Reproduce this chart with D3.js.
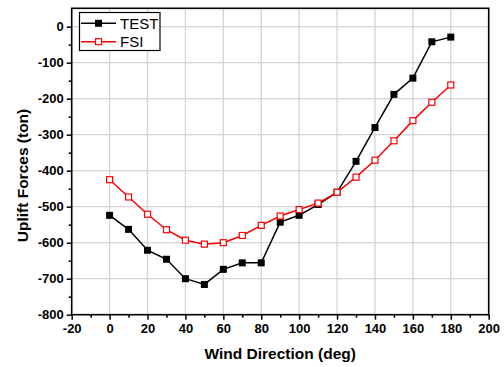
<!DOCTYPE html>
<html><head><meta charset="utf-8">
<script src="https://cdn.jsdelivr.net/npm/d3@7"></script>
<style>body{margin:0;background:#fff}svg{display:block}</style>
</head><body>
<script>
const directions = [0,10,20,30,40,50,60,70,80,90,100,110,120,130,140,150,160,170,180];
const testValues = [-524,-563,-621,-646,-700,-716,-674,-656,-656,-543,-524,-494,-460,-374,-280,-188,-143,-42,-29];
const fsiValues  = [-425,-473,-521,-564,-593,-604,-600,-580,-552,-526,-508,-490,-460,-418,-371,-317,-261,-210,-162];
const xTicks = [-20,0,20,40,60,80,100,120,140,160,180,200];
const yTicks = [0,-100,-200,-300,-400,-500,-600,-700,-800];
const seriesNames = ["TEST","FSI"];

const W = 504, H = 367;
const L = 71.7, R = 488.7, T = 8.3, B = 314.7;
const svg = d3.select("body").append("svg").attr("width", W).attr("height", H);
const x = d3.scaleLinear().domain([-20,200]).range([L,R]);
const y = d3.scaleLinear().domain([-800,51]).range([B,T]);

// grid
svg.append("g").selectAll("line").data(xTicks.slice(1,-1)).join("line")
  .attr("x1",d=>x(d)).attr("x2",d=>x(d)).attr("y1",T).attr("y2",B)
  .attr("stroke","#d4d4d4").attr("stroke-width",1.3);
svg.append("g").selectAll("line").data(yTicks.slice(0,-1)).join("line")
  .attr("y1",d=>y(d)).attr("y2",d=>y(d)).attr("x1",L).attr("x2",R)
  .attr("stroke","#d4d4d4").attr("stroke-width",1.3);

// axes
const fmt = d => String(d);
const xAxis = svg.append("g").attr("transform",`translate(0,${B})`)
  .call(d3.axisBottom(x).tickValues(xTicks).tickSize(5).tickPadding(4).tickFormat(fmt));
const xMinor = svg.append("g").attr("transform",`translate(0,${B})`)
  .call(d3.axisBottom(x).tickValues(d3.range(-10,200,20)).tickSize(3).tickFormat(""));
const yAxis = svg.append("g").attr("transform",`translate(${L},0)`)
  .call(d3.axisLeft(y).tickValues(yTicks).tickSize(5).tickPadding(3).tickFormat(fmt));
const yMinor = svg.append("g").attr("transform",`translate(${L},0)`)
  .call(d3.axisLeft(y).tickValues(d3.range(-750,50,100)).tickSize(3).tickFormat(""));
[xAxis,xMinor,yAxis,yMinor].forEach(g=>{
  g.select(".domain").remove();
  g.selectAll("line").attr("stroke","#000").attr("stroke-width",1.5);
  g.selectAll("text").attr("font-family","Liberation Sans, Arial, sans-serif")
   .attr("font-weight","bold").attr("font-size","13px").attr("fill","#000");
});
svg.append("rect").attr("x",L).attr("y",T).attr("width",R-L).attr("height",B-T)
  .attr("fill","none").attr("stroke","#000").attr("stroke-width",1.6);

// lines
const line = d3.line().x((d,i)=>x(directions[i])).y(d=>y(d));
svg.append("path").datum(testValues).attr("d",line).attr("fill","none").attr("stroke","#000").attr("stroke-width",1.5);
svg.append("path").datum(fsiValues).attr("d",line).attr("fill","none").attr("stroke","#ff0000").attr("stroke-width",1.5);
const ms = 7;
svg.append("g").selectAll("rect").data(testValues).join("rect")
  .attr("x",(d,i)=>x(directions[i])-ms/2).attr("y",d=>y(d)-ms/2).attr("width",ms).attr("height",ms).attr("fill","#000");
svg.append("g").selectAll("rect").data(fsiValues).join("rect")
  .attr("x",(d,i)=>x(directions[i])-ms/2+0.5).attr("y",d=>y(d)-ms/2+0.5).attr("width",ms-1).attr("height",ms-1)
  .attr("fill","#fff").attr("stroke","#ff0000").attr("stroke-width",1.2);

// legend
const lg = svg.append("g");
lg.append("rect").attr("x",79.5).attr("y",12.5).attr("width",80.5).attr("height",38)
  .attr("fill","#fff").attr("stroke","#000").attr("stroke-width",1.2);
const cols = ["#000","#ff0000"], ly = [23.3,41.7];
seriesNames.forEach((n,i)=>{
  lg.append("line").attr("x1",81).attr("x2",116).attr("y1",ly[i]).attr("y2",ly[i]).attr("stroke",cols[i]).attr("stroke-width",1.5);
  if(i===0) lg.append("rect").attr("x",98.5-ms/2).attr("y",ly[i]-ms/2).attr("width",ms).attr("height",ms).attr("fill","#000");
  else lg.append("rect").attr("x",98.5-ms/2+0.5).attr("y",ly[i]-ms/2+0.5).attr("width",ms-1).attr("height",ms-1).attr("fill","#fff").attr("stroke","#ff0000").attr("stroke-width",1.2);
  lg.append("text").attr("x",120).attr("y",ly[i]+5.5).text(n)
    .attr("font-family","Liberation Sans, Arial, sans-serif").attr("font-size","15px").attr("fill","#000");
});

// titles
svg.append("text").attr("x",(L+R)/2).attr("y",359).attr("text-anchor","middle")
  .attr("font-family","Liberation Sans, Arial, sans-serif").attr("font-weight","bold").attr("font-size","15.5px")
  .text("Wind Direction (deg)");
svg.append("text").attr("transform",`translate(28,${(T+B)/2+14}) rotate(-90)`).attr("text-anchor","middle")
  .attr("font-family","Liberation Sans, Arial, sans-serif").attr("font-weight","bold").attr("font-size","15.5px")
  .text("Uplift Forces (ton)");
</script>
</body></html>
